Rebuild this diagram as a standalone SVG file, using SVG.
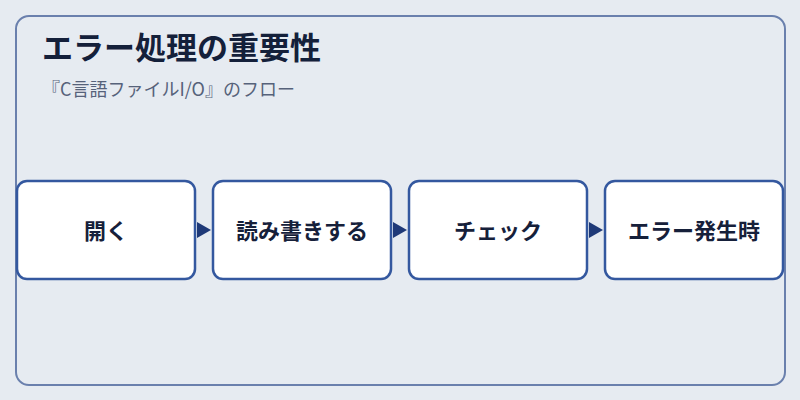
<svg xmlns="http://www.w3.org/2000/svg" width="800" height="400" viewBox="0 0 800 400">
<style>
.frame{fill:#e6ebf1;stroke:#6a80ad;stroke-width:2}
.box{fill:#ffffff;stroke:#34589f;stroke-width:2.5}
.lbl{font-family:"Noto Sans CJK JP","Noto Sans",sans-serif;font-size:22px;font-weight:700;fill:#16203a;text-anchor:middle}
.title{font-family:"Noto Sans CJK JP","Noto Sans",sans-serif;font-size:31px;font-weight:700;fill:#14203a}
.sub{font-family:"Noto Sans CJK JP","Noto Sans",sans-serif;font-size:18px;fill:#56627a}
</style>
<rect width="800" height="400" fill="#e6ebf1"/>
<rect class="frame" x="16" y="16" width="769" height="369" rx="13"/>
<text class="title" x="42" y="59">エラー処理の重要性</text>
<text class="sub" x="42" y="96">『C言語ファイルI/O』のフロー</text>
<g id="connectors">
<polygon points="197,222 211,230 197,238" fill="#1f3a78"/>
<polygon points="393,222 407,230 393,238" fill="#1f3a78"/>
<polygon points="589,222 603,230 589,238" fill="#1f3a78"/>
</g>
<g id="node-open">
<rect class="box" x="17" y="181" width="178" height="98" rx="10"/>
<text class="lbl" x="106" y="239">開く</text>
</g>
<g id="node-rw">
<rect class="box" x="213" y="181" width="178" height="98" rx="10"/>
<text class="lbl" x="302" y="239">読み書きする</text>
</g>
<g id="node-check">
<rect class="box" x="409" y="181" width="178" height="98" rx="10"/>
<text class="lbl" x="498" y="239">チェック</text>
</g>
<g id="node-error">
<rect class="box" x="605" y="181" width="178" height="98" rx="10"/>
<text class="lbl" x="694" y="239">エラー発生時</text>
</g>
</svg>
